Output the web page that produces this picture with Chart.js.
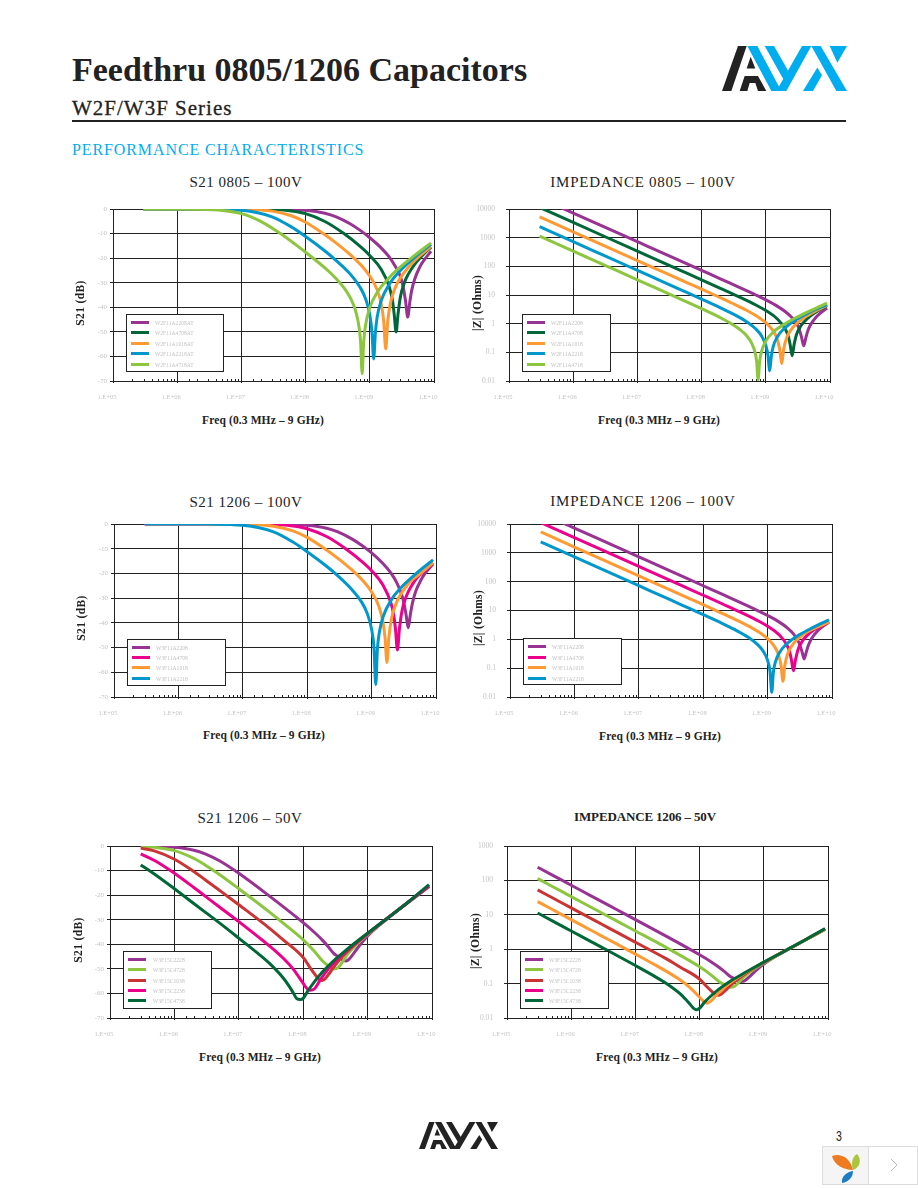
<!DOCTYPE html>
<html>
<head>
<meta charset="utf-8">
<title>Feedthru 0805/1206 Capacitors</title>
<script src="https://cdn.jsdelivr.net/npm/chart.js@4"></script>
<style>
    html, body { margin: 0; background: #fff; }
    #page { position: relative; width: 918px; height: 1188px; overflow: hidden; font-family: "Liberation Serif", serif; color: #222; }
    #page canvas { position: absolute; }
    .txt { position: absolute; white-space: nowrap; }
    .center { transform: translate(-50%, -50%); }
    .rot { transform: translate(-50%, -50%) rotate(-90deg); font-weight: bold; font-size: 11.5px; letter-spacing: .35px; }
    .xname { font-weight: bold; font-size: 11.5px; letter-spacing: .12px; }
    .title { font-size: 15px; letter-spacing: .5px; }
    .legend { position: absolute; background: #fff; border: 1px solid #222; box-sizing: border-box; }
    .swatch { position: absolute; width: 18px; height: 3px; }
    .entry { position: absolute; font-size: 5.6px; line-height: 6px; color: #c2c2c2; white-space: nowrap; }
</style>
</head>
<body>
<div id="page">
    <div class="txt" style="left:72px;top:50px;font-size:34px;font-weight:bold;line-height:40px;">Feedthru 0805/1206 Capacitors</div>
    <div class="txt" style="left:72px;top:96px;font-size:21px;line-height:25px;letter-spacing:1px;-webkit-text-stroke:.3px #222;">W2F/W3F Series</div>
    <div style="position:absolute;left:72px;top:120px;width:774px;height:2px;background:#222;"></div>
    <div class="txt" style="left:72px;top:141px;font-size:16px;line-height:18px;letter-spacing:.9px;color:#00aeef;">PERFORMANCE CHARACTERISTICS</div>

    <svg width="0" height="0" style="position:absolute">
        <symbol id="avx" viewBox="22 18 375 134" preserveAspectRatio="none">
            <g fill="#222">
                <polygon points="22,152 50,152 96,18 70,18"/>
                <polygon points="108,50 96,85 122,85"/>
                <polygon points="90,107 130,107 155,152 130,152 122,128 105,128 98,152 75,152"/>
            </g>
            <g fill="var(--avx2)">
                <polygon points="98,18 128,18 200,152 170,152"/>
                <polygon points="150,18 178,18 222,95 208,120"/>
                <polygon points="185,152 215,152 290,18 262,18"/>
                <polygon points="290,18 318,18 397,152 365,152"/>
                <polygon points="265,152 295,152 322,105 308,82"/>
                <polygon points="345,18 397,18 368,68"/>
            </g>
        </symbol>
    </svg>
    <svg style="position:absolute;left:722px;top:46px;--avx2:#00aeef" width="125" height="45"><use href="#avx" width="125" height="45"/></svg>
    <svg style="position:absolute;left:419px;top:1122px;--avx2:#222" width="79" height="27"><use href="#avx" width="79" height="27"/></svg>

    <div class="txt center" style="left:838.5px;top:1136px;font-family:'Liberation Sans',sans-serif;font-size:14px;line-height:14px;transform:translate(-50%,-50%) scaleX(.75);">3</div>
    <svg style="position:absolute;left:822px;top:1146px" width="96" height="39">
        <rect x=".5" y=".5" width="46" height="38" fill="#f5f5f5" stroke="#ddd"/>
        <rect x="46.5" y=".5" width="49" height="38" fill="#fff" stroke="#ddd"/>
        <path d="M10 10 C18 7 28 11 31 24 C22 24 12 19 10 10 Z" fill="#ee7b22"/>
        <path d="M35 8 C40 13 38 22 31 24 C29 17 30 11 35 8 Z" fill="#a9c63c"/>
        <path d="M31 25 C31 32 26 36 20 37 C19 31 24 26 31 25 Z" fill="#1c7cc4"/>
        <path d="M69 13 L75 19 L69 25" fill="none" stroke="#bbb"/>
    </svg>
</div>

<script>
// tick labels
const freqTicks = ['1.E+05', '1.E+06', '1.E+07', '1.E+08', '1.E+09', '1.E+10'];
const impedanceTicks = ['0.01', '0.1', '1', '10', '100', '1000', '10000'];

// colours
const purple = '#993393';
const darkGreen = '#006838';
const orange = '#ff9a33';
const blue = '#0098cc';
const lime = '#8cc63f';
const magenta = '#ec008c';
const red = '#cc3333';

// 0805 - 100V
const names0805S21 = ['W2F11A2208AT', 'W2F11A4708AT', 'W2F11A1018AT', 'W2F11A2218AT', 'W2F11A4718AT'];
const names0805Z = ['W2F11A2208', 'W2F11A4708', 'W2F11A1018', 'W2F11A2218', 'W2F11A4718'];

const freq0805A = [3e5, 1e6, 1e7, 3e7, 1e8, 2e8, 3e8, 5e8, 7e8, 1e9, 1.5e9, 2e9, 2.5e9, 3e9, 3.3e9, 3.6e9, 3.9e9, 4.2e9, 4.5e9, 5e9, 6e9, 7e9, 9e9];
const s21_0805A = [0, 0, -.01, -.05, -.49, -1.7, -3.2, -6.1, -8.6, -11.7, -15.8, -19.5, -23.4, -27.5, -31.6, -37.3, -44, -37.8, -33, -28.6, -23.6, -20.8, -17.2];
const z_0805A = [24100, 7230, 723, 241, 72.2, 36.1, 23.9, 14.2, 10, 6.75, 4.1, 2.66, 1.7, 1.05, .66, .34, .17, .32, .56, .93, 1.65, 2.29, 3.48];

const freq0805B = [3e5, 1e6, 1e7, 3e7, 6e7, 1e8, 2e8, 4e8, 7e8, 1e9, 1.5e9, 2e9, 2.25e9, 2.4e9, 2.57e9, 2.75e9, 3e9, 3.5e9, 4e9, 5e9, 7e9, 9e9];
const s21_0805B = [0, 0, -.02, -.21, -.78, -1.9, -5.07, -10.1, -15.1, -18.9, -24.5, -31.5, -37, -42.9, -50, -42.9, -35.7, -29.6, -26.4, -22.5, -18.2, -15.5];
const z_0805B = [11290, 3386, 339, 113, 56.4, 33.8, 16.8, 8.26, 4.48, 2.87, 1.49, .667, .352, .18, .076, .178, .41, .827, 1.2, 1.89, 3.1, 4.24];

const freq0805C = [3e5, 1e6, 1e7, 3e7, 6e7, 1e8, 2e8, 3e8, 5e8, 8e8, 1e9, 1.3e9, 1.5e9, 1.65e9, 1.77e9, 1.9e9, 2.1e9, 2.5e9, 3e9, 4e9, 6e9, 9e9];
const s21_0805C = [0, 0, -.11, -.87, -2.76, -5.4, -10.5, -13.9, -18.7, -24, -27.3, -32.9, -38.4, -45.9, -57, -45.9, -38.2, -31.9, -28, -23.7, -19.1, -15.2];
const z_0805C = [5305, 1592, 159, 53, 26.5, 15.9, 7.86, 5.15, 2.93, 1.58, 1.08, .563, .299, .126, .04, .127, .309, .634, .994, 1.64, 2.79, 4.4];

const freq0805D = [3e5, 1e6, 3e6, 1e7, 3e7, 6e7, 1e8, 2e8, 3e8, 5e8, 7e8, 8.5e8, 1e9, 1.08e9, 1.15e9, 1.22e9, 1.3e9, 1.5e9, 2e9, 3e9, 5e9, 9e9];
const s21_0805D = [0, -.01, -.05, -.49, -3.17, -7.28, -11.2, -17.1, -21, -26.6, -31.7, -36.2, -43, -50, -61, -50.6, -44.1, -37.4, -30.7, -25, -19.7, -14.4];
const z_0805D = [2411, 723, 241, 72.3, 24.1, 12, 7.18, 3.51, 2.25, 1.17, .651, .386, .176, .079, .023, .074, .155, .338, .731, 1.4, 2.59, 4.6];

const freq0805E = [3e5, 1e6, 3e6, 1e7, 2e7, 4e7, 7e7, 1e8, 2e8, 3e8, 4e8, 5e8, 6e8, 6.8e8, 7.2e8, 7.6e8, 8e8, 8.5e8, 1e9, 1.3e9, 2e9, 3e9, 5e9, 9e9];
const s21_0805E = [0, -.02, -.2, -1.88, -5.04, -9.9, -14.5, -17.6, -24, -28.4, -32.2, -36.3, -41.4, -48, -54.3, -67, -54.8, -48, -40.1, -34, -28, -23.6, -18.9, -13.8];
const z_0805E = [1129, 338.6, 112.9, 33.9, 16.9, 8.44, 4.8, 3.33, 1.58, .953, .612, .384, .213, .0995, .048, .0112, .0457, .0999, .248, .501, 1, 1.65, 2.87, 5.24];

// 1206 - 100V
const names1206 = ['W3F11A2208', 'W3F11A4708', 'W3F11A1018', 'W3F11A2218'];

const freq1206A = [3e5, 1e6, 1e7, 3e7, 1e8, 2e8, 3e8, 5e8, 7e8, 1e9, 1.5e9, 2e9, 2.5e9, 3e9, 3.2e9, 3.45e9, 3.7e9, 4e9, 4.3e9, 4.8e9, 6e9, 7e9, 9e9];
const s21_1206A = [0, 0, -.01, -.05, -.49, -1.7, -3.2, -6.13, -8.63, -11.7, -16, -19.9, -24.1, -29.4, -32.4, -37.1, -42, -36.6, -32.1, -27.5, -22.1, -19.5, -16.2];
const z_1206A = [24100, 7230, 723, 241, 72.2, 36.1, 23.9, 14.2, 9.96, 6.7, 4.03, 2.56, 1.57, .85, .6, .35, .21, .37, .62, 1.05, 1.97, 2.66, 3.95];

const freq1206B = [3e5, 1e6, 1e7, 3e7, 6e7, 1e8, 2e8, 4e8, 7e8, 1e9, 1.5e9, 2e9, 2.2e9, 2.35e9, 2.52e9, 2.7e9, 3e9, 3.5e9, 4e9, 5e9, 7e9, 9e9];
const s21_1206B = [0, 0, -.02, -.21, -.78, -1.9, -5.07, -10.1, -15.1, -18.9, -24.7, -32, -36.7, -42.5, -51, -42.6, -34.5, -28.9, -25.8, -22, -18.5, -15.7];
const z_1206B = [11290, 3386, 339, 113, 56.4, 33.8, 16.8, 8.26, 4.47, 2.86, 1.46, .626, .366, .187, .081, .186, .47, .898, 1.29, 1.99, 3, 4];

const freq1206C = [3e5, 1e6, 1e7, 3e7, 6e7, 1e8, 2e8, 3e8, 5e8, 8e8, 1e9, 1.3e9, 1.5e9, 1.62e9, 1.73e9, 1.85e9, 2.05e9, 2.5e9, 3e9, 4e9, 6e9, 9e9];
const s21_1206C = [0, 0, -.11, -.87, -2.76, -5.4, -10.5, -13.9, -18.7, -24.1, -27.5, -33.4, -39.6, -46.3, -56, -46.1, -38, -31.1, -27.5, -23.2, -19.7, -15.6];
const z_1206C = [5305, 1592, 159, 53, 26.5, 15.9, 7.86, 5.15, 2.92, 1.56, 1.06, .533, .263, .121, .035, .124, .314, .694, 1.06, 1.73, 2.7, 4];

const freq1206D = [3e5, 1e6, 3e6, 1e7, 3e7, 6e7, 1e8, 2e8, 3e8, 5e8, 7e8, 8.5e8, 1e9, 1.09e9, 1.16e9, 1.23e9, 1.32e9, 1.5e9, 2e9, 3e9, 5e9, 9e9];
const s21_1206D = [0, -.01, -.05, -.49, -3.17, -7.28, -11.2, -17.1, -21, -26.7, -31.6, -36, -42.6, -50.1, -65, -50.7, -43.8, -37.7, -30.9, -25.2, -19.9, -14.5];
const z_1206D = [2411, 723, 241, 72.3, 24.1, 12, 7.18, 3.51, 2.25, 1.18, .657, .394, .186, .078, .0145, .073, .162, .324, .713, 1.37, 2.55, 4.76];

// 1206 - 50V
const names50V = ['W3F15C2228', 'W3F15C4728', 'W3F15C1038', 'W3F15C2238', 'W3F15C4738'];

const freq50A = [3e5, 5e5, 1e6, 2e6, 3e6, 5e6, 1e7, 3e7, 1e8, 1.5e8, 2e8, 2.5e8, 3e8, 3.5e8, 4e8, 4.5e8, 5e8, 6e8, 7e8, 1e9, 2e9, 4e9, 9e9];
const s21_50A = [-.05, -.13, -.49, -1.7, -3.17, -6, -11.1, -20.4, -31.2, -35.2, -38.4, -41.3, -43.8, -45, -46.2, -46.8, -46.4, -43.9, -41.5, -36.6, -29.7, -23.5, -16.5];
const z_50A = [241, 145, 72.3, 36.2, 24.1, 14.5, 7.23, 2.41, .69, .434, .3, .216, .162, .14, .122, .115, .12, .16, .21, .368, .816, 1.67, 3.8];

const freq50B = [3e5, 5e5, 1e6, 2e6, 3e6, 5e6, 1e7, 3e7, 5e7, 1e8, 1.5e8, 2e8, 2.5e8, 3e8, 3.5e8, 4e8, 5e8, 7e8, 1e9, 2e9, 4e9, 9e9];
const s21_50B = [-.21, -.55, -1.88, -5.04, -7.7, -11.6, -17.4, -26.9, -31.6, -38.2, -42.9, -46.8, -48.9, -50.1, -49.5, -47.5, -43.7, -39.7, -36, -29.6, -23.5, -16.4];
const z_50B = [113, 67.7, 33.9, 16.9, 11.3, 6.77, 3.39, 1.13, .66, .307, .18, .115, .09, .078, .084, .105, .163, .259, .396, .83, 1.68, 3.8];

const freq50C = [3e5, 5e5, 1e6, 2e6, 3e6, 5e6, 1e7, 3e7, 5e7, 1e8, 1.3e8, 1.6e8, 1.8e8, 2e8, 2.2e8, 2.5e8, 3e8, 4e8, 6e8, 1e9, 2e9, 4e9, 9e9];
const s21_50C = [-.87, -2.09, -5.4, -10.4, -13.7, -18, -23.9, -33.5, -38.4, -45.4, -49.8, -53, -54.5, -54.7, -54, -52.1, -49.2, -45.2, -40.7, -35.7, -29.5, -23.5, -16.4];
const z_50C = [53, 31.8, 15.9, 7.96, 5.31, 3.18, 1.59, .531, .3, .135, .081, .056, .047, .0458, .05, .062, .087, .137, .231, .409, .837, 1.68, 3.8];

const freq50D = [3e5, 5e5, 1e6, 2e6, 3e6, 5e6, 1e7, 2e7, 3e7, 5e7, 7e7, 1e8, 1.15e8, 1.3e8, 1.5e8, 1.8e8, 2.2e8, 3e8, 4e8, 6e8, 1e9, 2e9, 4e9, 9e9];
const s21_50D = [-3.17, -6, -11.1, -16.9, -20.4, -24.8, -30.8, -37, -40.7, -45.9, -50.1, -55.9, -58.1, -58.7, -58.1, -54.9, -51.6, -47.5, -44.3, -40.3, -35.6, -29.5, -23.4, -16.3];
const z_50D = [24.1, 14.5, 7.23, 3.62, 2.41, 1.45, .72, .355, .23, .127, .078, .04, .031, .027, .031, .045, .066, .106, .153, .242, .416, .84, 1.69, 3.8];

const freq50E = [3e5, 5e5, 1e6, 2e6, 3e6, 5e6, 1e7, 2e7, 3e7, 5e7, 6e7, 7e7, 8e7, 9e7, 1e8, 1.2e8, 1.5e8, 2e8, 3e8, 4e8, 6e8, 1e9, 2e9, 4e9, 9e9];
const s21_50E = [-7.7, -11.6, -17.4, -23.4, -26.9, -31.3, -37.5, -43.8, -47.8, -54, -56.9, -59.7, -62.2, -62.5, -62, -58.7, -55.2, -51.2, -46.6, -43.8, -40, -35.5, -29.5, -23.4, -15.7];
const z_50E = [11.3, 6.77, 3.39, 1.69, 1.13, .677, .335, .162, .102, .05, .0355, .0258, .0194, .0174, .0192, .029, .0436, .069, .117, .161, .248, .42, .84, 1.69, 3.95];

const gridColor = '#222';
const tickTextColor = '#c4c4c4';
const PAD_LEFT = 40, PAD_TOP = 6, PAD_RIGHT = 16, PAD_BOTTOM = 26;

const isDecade = v => Math.abs(Math.log10(v) - Math.round(Math.log10(v))) < 1e-6;

// short inward ticks along the frequency axis, between the decades
const minorTicks = {
    id: 'minorTicks',
    beforeDatasetsDraw(chart) {
        const { ctx, scales: { x }, chartArea } = chart;
        ctx.save();
        ctx.strokeStyle = gridColor;
        ctx.lineWidth = 1;
        x.ticks.forEach(tick => {
            if (isDecade(tick.value)) return;
            const px = Math.round(x.getPixelForValue(tick.value)) + .5;
            ctx.beginPath();
            ctx.moveTo(px, chartArea.bottom);
            ctx.lineTo(px, chartArea.bottom - 2);
            ctx.stroke();
        });
        ctx.restore();
    },
};

// pin the axis boxes so the plot area lands where the page wants it
function fitY(scale) {
    scale.width = PAD_LEFT;
    scale.paddingTop = 0;
    scale.paddingBottom = 0;
}

function fitX(scale) {
    scale.height = PAD_BOTTOM;
    scale.paddingLeft = 0;
    scale.paddingRight = 0;
}

function addText(cls, text, left, top, centered = true) {
    const el = document.createElement('div');
    el.className = 'txt ' + cls + (centered ? ' center' : '');
    el.style.left = left + 'px';
    el.style.top = top + 'px';
    el.textContent = text;
    document.getElementById('page').appendChild(el);
    return el;
}

function addLegend(box, names, colors, rows) {
    const el = document.createElement('div');
    el.className = 'legend';
    el.style.cssText = `left:${box.left}px;top:${box.top}px;width:${box.width}px;height:${box.height}px;`;
    names.forEach((name, i) => {
        const y = rows[i] - box.top - 1;
        const sw = document.createElement('div');
        sw.className = 'swatch';
        sw.style.cssText = `left:${box.swatchX - box.left - 1}px;top:${y - 1.5}px;background:${colors[i]};`;
        el.appendChild(sw);
        const label = document.createElement('div');
        label.className = 'entry';
        label.style.cssText = `left:${box.textX - box.left - 1}px;top:${y - 2.5}px;`;
        label.textContent = name;
        el.appendChild(label);
    });
    document.getElementById('page').appendChild(el);
}

function makeChart(cfg) {
    const canvas = document.createElement('canvas');
    const w = cfg.plot.right - cfg.plot.left + PAD_LEFT + PAD_RIGHT;
    const h = cfg.plot.bottom - cfg.plot.top + PAD_TOP + PAD_BOTTOM;
    canvas.width = w;
    canvas.height = h;
    canvas.style.cssText = `left:${cfg.plot.left - PAD_LEFT}px;top:${cfg.plot.top - PAD_TOP}px;width:${w}px;height:${h}px;`;
    document.getElementById('page').appendChild(canvas);

    const tickFont = { family: '"Liberation Serif", serif', size: 6.5 };
    const gridOpts = {
        color: ctx => isDecade(ctx.tick.value) ? gridColor : 'transparent',
        lineWidth: ctx => isDecade(ctx.tick.value) ? 1 : 0,
        tickColor: ctx => isDecade(ctx.tick.value) ? gridColor : 'transparent',
    };

    const y = cfg.logY ? {
        type: 'logarithmic',
        min: cfg.yMin,
        max: cfg.yMax,
        afterFit: fitY,
        border: { color: gridColor },
        grid: { ...gridOpts, tickLength: 3 },
        ticks: {
            autoSkip: false,
            padding: 11,
            color: tickTextColor,
            font: { ...tickFont, size: 7.5 },
            callback: v => isDecade(v) ? impedanceTicks[Math.round(Math.log10(v)) + 2] : '',
        },
    } : {
        type: 'linear',
        min: cfg.yMin,
        max: cfg.yMax,
        afterFit: fitY,
        border: { color: gridColor },
        grid: { color: gridColor, lineWidth: 1, tickLength: 3 },
        ticks: { stepSize: 10, padding: 3, color: tickTextColor, font: { ...tickFont, size: 7 } },
    };

    new Chart(canvas.getContext('2d'), {
        type: 'line',
        data: {
            datasets: cfg.series.map((s, i) => ({
                label: s.name,
                data: s.freq.map((f, j) => ({ x: f, y: s.values[j] })),
                borderColor: s.color,
                borderWidth: 3,
                pointRadius: 0,
                fill: false,
                cubicInterpolationMode: 'monotone',
                borderJoinStyle: 'round',
                order: -i,
            })),
        },
        options: {
            responsive: false,
            animation: false,
            devicePixelRatio: 1,
            layout: { autoPadding: false, padding: { top: PAD_TOP, right: PAD_RIGHT } },
            plugins: { legend: { display: false }, tooltip: { enabled: false } },
            scales: {
                x: {
                    type: 'logarithmic',
                    min: 1e5,
                    max: 1e10,
                    afterFit: fitX,
                    border: { color: gridColor },
                    grid: { ...gridOpts, tickLength: 2 },
                    ticks: {
                        autoSkip: false,
                        maxRotation: 0,
                        padding: 10,
                        labelOffset: -6,
                        color: tickTextColor,
                        font: tickFont,
                        callback: v => isDecade(v) ? freqTicks[Math.round(Math.log10(v)) - 5] : '',
                    },
                },
                y,
            },
        },
        plugins: [minorTicks],
    });

    addText('title', cfg.title, cfg.titleAt[0], cfg.titleAt[1]).style.cssText += cfg.titleStyle || '';
    addText('rot', cfg.yName, cfg.yNameAt[0], cfg.yNameAt[1], false);
    addText('xname', 'Freq (0.3 MHz – 9 GHz)', cfg.xNameAt[0], cfg.xNameAt[1]);
    addLegend(cfg.legend, cfg.series.map(s => s.name), cfg.legendColors || cfg.series.map(s => s.color), cfg.legendRows);
}

const colors0805 = [purple, darkGreen, orange, blue, lime];
const freqs0805 = [freq0805A, freq0805B, freq0805C, freq0805D, freq0805E];
const colors1206 = [purple, magenta, orange, blue];
const freqs1206 = [freq1206A, freq1206B, freq1206C, freq1206D];
const freqs50V = [freq50A, freq50B, freq50C, freq50D, freq50E];

const buildSeries = (names, freqs, values, colors) => names.map((name, i) => ({ name, freq: freqs[i], values: values[i], color: colors[i] }));

document.addEventListener('DOMContentLoaded', () => {
    const impedanceTitle = 'letter-spacing:.75px;';
    makeChart({
        title: 'S21 0805 – 100V', titleAt: [246, 182],
        plot: { left: 113, right: 434, top: 209, bottom: 381 },
        yMin: -70, yMax: 0,
        yName: 'S21 (dB)', yNameAt: [80, 303], xNameAt: [263, 420],
        series: buildSeries(names0805S21, freqs0805, [s21_0805A, s21_0805B, s21_0805C, s21_0805D, s21_0805E], colors0805),
        legend: { left: 126, top: 314, width: 98, height: 58, swatchX: 131, textX: 155 },
        legendRows: [322, 332, 343, 353, 364],
    });
    makeChart({
        title: 'IMPEDANCE 0805 – 100V', titleAt: [643, 182], titleStyle: impedanceTitle,
        plot: { left: 509, right: 830, top: 209, bottom: 381 },
        logY: true, yMin: .01, yMax: 10000,
        yName: '|Z| (Ohms)', yNameAt: [477, 303], xNameAt: [659, 420],
        series: buildSeries(names0805Z, freqs0805, [z_0805A, z_0805B, z_0805C, z_0805D, z_0805E], colors0805),
        legend: { left: 522, top: 314, width: 89, height: 58, swatchX: 527, textX: 551 },
        legendRows: [322, 332, 343, 353, 364],
    });
    makeChart({
        title: 'S21 1206 – 100V', titleAt: [246, 502],
        plot: { left: 114, right: 436, top: 524, bottom: 697 },
        yMin: -70, yMax: 0,
        yName: 'S21 (dB)', yNameAt: [81, 618], xNameAt: [264, 735],
        series: buildSeries(names1206, freqs1206, [s21_1206A, s21_1206B, s21_1206C, s21_1206D], colors1206),
        legend: { left: 127, top: 639, width: 99, height: 47, swatchX: 132, textX: 156 },
        legendRows: [647, 657, 667, 678],
    });
    makeChart({
        title: 'IMPEDANCE 1206 – 100V', titleAt: [643, 501], titleStyle: impedanceTitle,
        plot: { left: 510, right: 832, top: 524, bottom: 697 },
        logY: true, yMin: .01, yMax: 10000,
        yName: '|Z| (Ohms)', yNameAt: [478, 618], xNameAt: [660, 736],
        series: buildSeries(names1206, freqs1206, [z_1206A, z_1206B, z_1206C, z_1206D], colors1206),
        legend: { left: 523, top: 638, width: 99, height: 47, swatchX: 528, textX: 552 },
        legendRows: [646, 657, 667, 678],
    });
    makeChart({
        title: 'S21 1206 – 50V', titleAt: [250, 818],
        plot: { left: 110, right: 432, top: 846, bottom: 1018 },
        yMin: -70, yMax: 0,
        yName: 'S21 (dB)', yNameAt: [78, 940], xNameAt: [260, 1057],
        series: buildSeries(names50V, freqs50V, [s21_50A, s21_50B, s21_50C, s21_50D, s21_50E], [purple, lime, red, magenta, darkGreen]),
        legend: { left: 123, top: 951, width: 89, height: 58, swatchX: 128, textX: 153 },
        legendRows: [959, 969, 980, 990, 1000],
    });
    makeChart({
        title: 'IMPEDANCE 1206 – 50V', titleAt: [645, 817],
        titleStyle: 'font-weight:bold;font-size:13px;letter-spacing:-.15px;',
        plot: { left: 507, right: 828, top: 846, bottom: 1018 },
        logY: true, yMin: .01, yMax: 1000,
        yName: '|Z| (Ohms)', yNameAt: [475, 941], xNameAt: [657, 1057],
        series: buildSeries(names50V, freqs50V, [z_50A, z_50B, z_50C, z_50D, z_50E], [purple, lime, red, orange, darkGreen]),
        legendColors: [purple, lime, red, magenta, darkGreen],
        legend: { left: 520, top: 951, width: 89, height: 58, swatchX: 525, textX: 549 },
        legendRows: [959, 969, 980, 990, 1000],
    });
});
</script>
</body>
</html>
